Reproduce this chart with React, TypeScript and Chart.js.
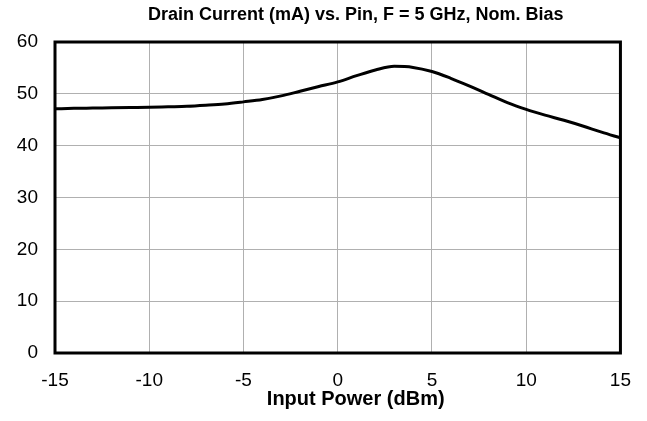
import React, { useEffect, useRef } from "react";
import { Chart, registerables } from "chart.js";

Chart.register(...registerables);

const titleText = "Drain Current (mA) vs. Pin, F = 5 GHz, Nom. Bias";
const xAxisTitle = "Input Power (dBm)";
const pinDbm = [-15, -14, -13, -12, -11, -10, -9, -8, -7, -6, -5, -4, -3, -2, -1, 0, 1, 2, 3, 4, 5, 6, 7, 8, 9, 10, 11, 12, 13, 14, 15];
const drainCurrent = [47.1, 47.2, 47.25, 47.3, 47.35, 47.4, 47.5, 47.6, 47.8, 48.05, 48.45, 48.9, 49.6, 50.5, 51.4, 52.3, 53.5, 54.6, 55.3, 55.1, 54.3, 53.0, 51.5, 49.9, 48.3, 47.0, 45.9, 44.9, 43.8, 42.6, 41.5];
const xTicks = [-15, -10, -5, 0, 5, 10, 15];
const yTicks = [0, 10, 20, 30, 40, 50, 60];

const FONT = "'Liberation Sans', Arial, Helvetica, sans-serif";

export default function App() {
  const ref = useRef<HTMLCanvasElement | null>(null);

  useEffect(() => {
    document.body.style.margin = "0";
    const canvas = ref.current;
    if (!canvas) return;

    const framePlugin = {
      id: "frameAndTitles",
      afterDatasetsDraw(chart: any) {
        const { ctx, chartArea } = chart;
        ctx.save();
        ctx.strokeStyle = "#000";
        ctx.lineWidth = 3;
        ctx.strokeRect(chartArea.left, chartArea.top, chartArea.right - chartArea.left, chartArea.bottom - chartArea.top);
        ctx.fillStyle = "#000";
        ctx.textAlign = "center";
        ctx.textBaseline = "middle";
        ctx.font = `bold 18px ${FONT}`;
        const cx = (chartArea.left + chartArea.right) / 2 + 18;
        ctx.fillText(titleText, cx, 15);
        ctx.font = `bold 20px ${FONT}`;
        ctx.fillText(xAxisTitle, cx, chartArea.bottom + 46);
        ctx.restore();
      },
    };

    const chart = new Chart(canvas, {
      type: "line",
      data: {
        datasets: [
          {
            data: pinDbm.map((x, i) => ({ x, y: drainCurrent[i] })),
            borderColor: "#000",
            borderWidth: 3,
            pointRadius: 0,
            cubicInterpolationMode: "monotone",
            fill: false,
          },
        ],
      },
      options: {
        responsive: false,
        animation: false,
        layout: { padding: { top: 42, right: 26, left: 0, bottom: 0 } },
        plugins: { legend: { display: false }, title: { display: false }, tooltip: { enabled: false } },
        scales: {
          x: {
            type: "linear",
            min: xTicks[0],
            max: xTicks[xTicks.length - 1],
            afterBuildTicks: (s: any) => { s.ticks = xTicks.map((v) => ({ value: v })); },
            afterFit: (s: any) => { s.height = 68; },
            grid: { color: "#b0b0b0", lineWidth: 1, drawTicks: false },
            border: { display: false },
            ticks: { color: "#000", font: { family: FONT, size: 19 }, padding: 16, maxRotation: 0 },
          },
          y: {
            type: "linear",
            min: yTicks[0],
            max: yTicks[yTicks.length - 1],
            afterBuildTicks: (s: any) => { s.ticks = yTicks.map((v) => ({ value: v })); },
            afterFit: (s: any) => { s.width = 55; },
            grid: { color: "#b0b0b0", lineWidth: 1, drawTicks: false },
            border: { display: false },
            ticks: { color: "#000", font: { family: FONT, size: 19 }, padding: 17 },
          },
        },
      },
      plugins: [framePlugin],
    } as any);

    return () => chart.destroy();
  }, []);

  return <canvas ref={ref} width={647} height={421} style={{ display: "block" }} />;
}
